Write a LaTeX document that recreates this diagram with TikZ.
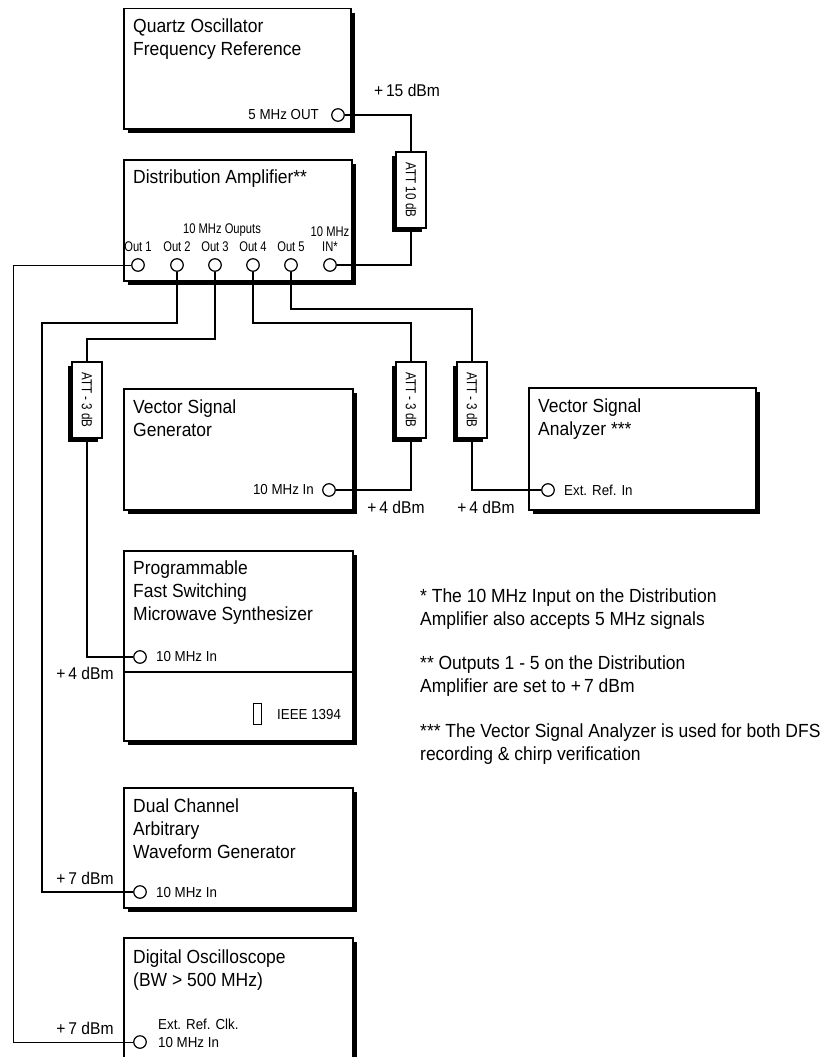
\documentclass[tikz,border=0pt]{standalone}
\usepackage{fontspec}
\setmainfont[FakeStretch=0.92]{Liberation Sans}
\newfontfamily\narrowfont[FakeStretch=0.8]{Liberation Sans}
\usetikzlibrary{shadows}
\begin{document}
\begin{tikzpicture}[x=1pt,y=-1pt,
  dev/.style={draw, line width=1.5pt, fill=white, anchor=north west, inner sep=0pt,
    drop shadow={shadow xshift=4pt, shadow yshift=-4pt, opacity=1, fill=black}},
  attbox/.style={draw, line width=1.3pt, fill=white, minimum width=30pt, minimum height=76pt, inner sep=0pt,
    font=\narrowfont\fontsize{14.5}{16}\selectfont,
    drop shadow={shadow xshift=-4pt, shadow yshift=-4pt, opacity=1, fill=black}},
  port/.style={circle, draw, line width=1.2pt, fill=white, minimum size=12.5pt, inner sep=0pt},
  ttl/.style={anchor=north west, align=left, font=\fontsize{19}{23}\selectfont, inner sep=0pt},
  small/.style={font=\fontsize{14.5}{17}\selectfont, inner sep=0pt},
  narrow/.style={font=\narrowfont\fontsize{14}{17}\selectfont, inner sep=0pt},
  lbl/.style={font=\fontsize{17}{20}\selectfont, inner sep=0pt},
  note/.style={anchor=north west, align=left, font=\fontsize{19}{22.5}\selectfont, inner sep=0pt},
  wire/.style={line width=1.2pt},
  thinwire/.style={line width=0.9pt}
]
\useasboundingbox (0,0) rectangle (820,1057);
\clip (0,0) rectangle (820,1057);

% Quartz oscillator
\node[dev, minimum width=227pt, minimum height=120pt] (qz) at (123,8) {};
\node[ttl] (qzt) at (133,19) {Quartz Oscillator\\Frequency Reference};
\node[port] (pq) at (338,115) {};
\node[small, anchor=east] (pqt) at (319,115) {5 MHz OUT};
\node[lbl] (l15) at (407,90) {+\,15 dBm};

% ATT 10 dB
\node[attbox] (a10) at (411,190) {\rotatebox{-90}{ATT 10 dB}};

% Distribution amplifier
\node[dev, minimum width=228pt, minimum height=121pt] (da) at (123,159) {};
\node[ttl] (dat) at (133,170) {Distribution Amplifier**};
\node[narrow] (dao) at (222,230) {10 MHz Ouputs};
\node[port] (o1) at (138,265) {};
\node[port] (o2) at (177,265) {};
\node[port] (o3) at (215,265) {};
\node[port] (o4) at (253,265) {};
\node[port] (o5) at (291,265) {};
\node[port] (pin) at (330,265) {};
\node[narrow] (o1t) at (138,247) {Out 1};
\node[narrow] (o2t) at (177,247) {Out 2};
\node[narrow] (o3t) at (215,247) {Out 3};
\node[narrow] (o4t) at (253,247) {Out 4};
\node[narrow] (o5t) at (291,247) {Out 5};
\node[narrow] (pint1) at (330,232) {10 MHz};
\node[narrow] (pint2) at (330,247) {IN*};

% ATT -3 dB
\node[attbox] (at1) at (87,400) {\rotatebox{-90}{ATT - 3 dB}};
\node[attbox] (at2) at (411,400) {\rotatebox{-90}{ATT - 3 dB}};
\node[attbox] (at3) at (472,400) {\rotatebox{-90}{ATT - 3 dB}};

% Vector signal generator
\node[dev, minimum width=229pt, minimum height=121pt] (vsg) at (123,388) {};
\node[ttl] (vsgt) at (133,400) {Vector Signal\\Generator};
\node[port] (pvsg) at (329,490) {};
\node[small, anchor=east] (pvsgt) at (314,490) {10 MHz In};
\node[lbl] (l4a) at (396,507) {+\,4 dBm};

% Vector signal analyzer
\node[dev, minimum width=227pt, minimum height=122pt] (vsa) at (528,387) {};
\node[ttl] (vsat) at (538,399) {Vector Signal\\Analyzer ***};
\node[port] (pvsa) at (548,490) {};
\node[small, anchor=west] (pvsat) at (564,490) {Ext. Ref. In};
\node[lbl] (l4b) at (486,507) {+\,4 dBm};

% Programmable synthesizer
\node[dev, minimum width=229pt, minimum height=190pt] (pfs) at (123,550) {};
\draw[line width=1.5pt] (pfs.west |- 0,672) coordinate (dv1) -- (pfs.east |- 0,672) coordinate (dv2);
\node[ttl] (pfst) at (133,561) {Programmable\\Fast Switching\\Microwave Synthesizer};
\node[port] (ppfs) at (140,657) {};
\node[small, anchor=west] (ppfst) at (156,657) {10 MHz In};
\node[lbl] (l4c) at (85,673) {+\,4 dBm};
\node[draw, line width=0.8pt, minimum width=8pt, minimum height=21pt, inner sep=0pt] (ieee) at (257,713.5) {};
\node[small, anchor=west] (ieeet) at (277,714) {IEEE 1394};

% Arbitrary waveform generator
\node[dev, minimum width=229pt, minimum height=120pt] (awg) at (123,787) {};
\node[ttl] (awgt) at (133,799) {Dual Channel\\Arbitrary\\Waveform Generator};
\node[port] (pawg) at (140,892) {};
\node[small, anchor=west] (pawgt) at (156,892) {10 MHz In};
\node[lbl] (l7a) at (85,878) {+\,7 dBm};

% Oscilloscope
\node[dev, minimum width=229pt, minimum height=140pt] (osc) at (123,937) {};
\node[ttl] (osct) at (133,950) {Digital Oscilloscope\\(BW > 500 MHz)};
\node[port] (posc) at (140,1042) {};
\node[small, anchor=west] (posct1) at (158,1024) {Ext. Ref. Clk.};
\node[small, anchor=west] (posct2) at (158,1042) {10 MHz In};
\node[lbl] (l7b) at (85,1028) {+\,7 dBm};

% Notes
\node[note] (n1) at (420,589) {* The 10 MHz Input on the Distribution\\Amplifier also accepts 5 MHz signals};
\node[note] (n2) at (420,656) {** Outputs 1 - 5 on the Distribution\\Amplifier are set to +\,7 dBm};
\node[note] (n3) at (420,724) {*** The Vector Signal Analyzer is used for both DFS\\recording \& chirp verification};

% bend points
\coordinate (b1) at (13,265);
\coordinate (b2) at (42,323);
\coordinate (b3) at (87,339);
\coordinate (b4) at (411,323);
\coordinate (b5) at (472,309);

% connectors
\draw[wire] (pq.east) -| (a10.north);
\draw[wire] (pin.east) -| (a10.south);
\draw[thinwire] (o1.west) -- (b1) |- (posc.west);
\draw[wire] (o2.south) |- (b2) |- (pawg.west);
\draw[wire] (o3.south) |- (b3) -- (at1.north);
\draw[wire] (at1.south) |- (ppfs.west);
\draw[wire] (o4.south) |- (b4) -- (at2.north);
\draw[wire] (at2.south) |- (pvsg.east);
\draw[wire] (o5.south) |- (b5) -- (at3.north);
\draw[wire] (at3.south) |- (pvsa.west);
\end{tikzpicture}
\end{document}
